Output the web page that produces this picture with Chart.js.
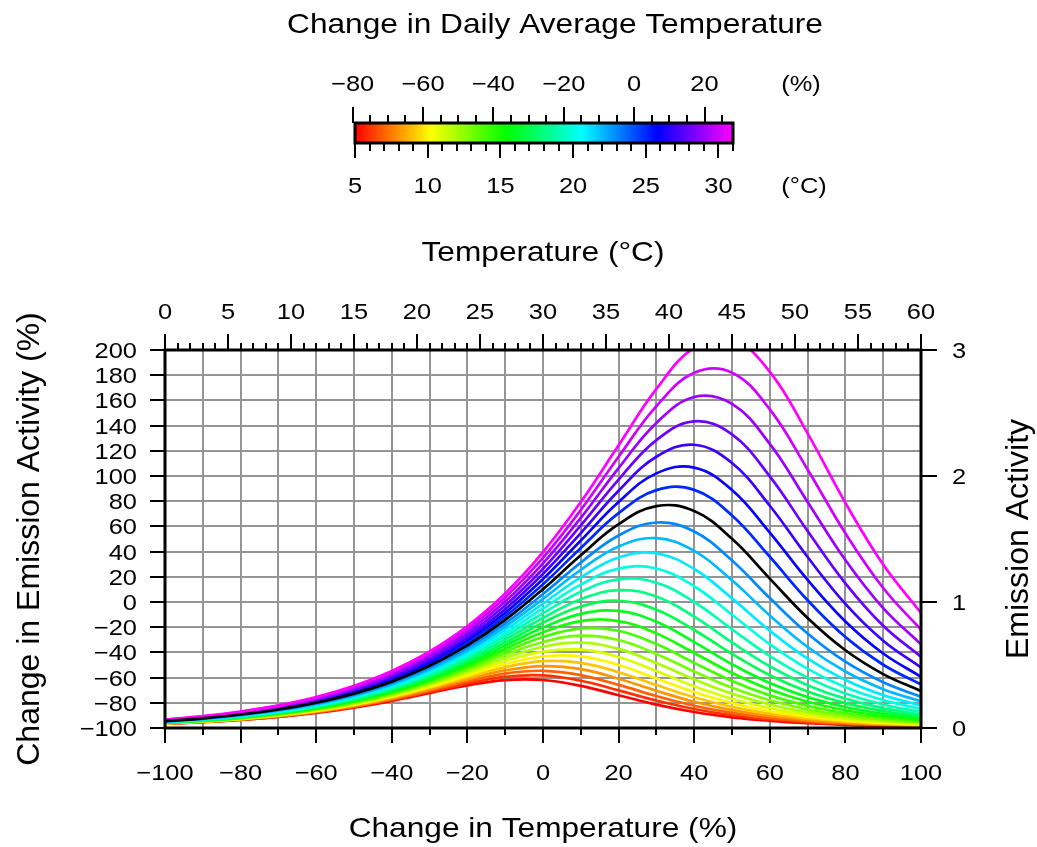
<!DOCTYPE html>
<html>
<head>
<meta charset="utf-8" />
<title>Emission activity vs temperature</title>
<script src="https://cdn.jsdelivr.net/npm/chart.js"></script>
<style>
  * { margin: 0; padding: 0; box-sizing: border-box; }
  body { background: #fff; width: 1037px; height: 847px; overflow: hidden; }
  #chart { display: block; }
</style>
</head>
<body>
<canvas id="chart" width="1037" height="847"></canvas>
<script>
// sample positions: change in temperature (%), -100 % = 0 °C, 100 % = 60 °C
const changeInTemp = [-100, -90, -80, -70, -60, -50, -40, -30, -20, -10, 0, 10, 20, 30, 40, 50, 60, 70, 80, 90, 100];

// daily average temperature of each curve (°C); 24 °C is the black reference curve
const dailyAvgTemps = [5, 6, 7, 8, 9, 10, 11, 12, 13, 14, 15, 16, 17, 18, 19, 20, 21, 22, 23, 24, 25, 26, 27, 28, 29, 30, 31];
const baselineTemp = 24;

// change in emission activity (%)
const td05 = [-96.7, -95.4, -93.6, -91.2, -88.0, -83.8, -78.5, -72.3, -66.2, -62.0, -61.9, -66.6, -74.0, -81.4, -87.3, -91.5, -94.3, -96.2, -97.5, -98.3, -98.9];
const td06 = [-96.6, -95.2, -93.4, -90.9, -87.6, -83.3, -77.8, -71.3, -64.6, -59.4, -58.3, -62.5, -70.1, -78.2, -84.9, -89.9, -93.2, -95.5, -97.0, -98.0, -98.6];
const td07 = [-96.5, -95.1, -93.2, -90.7, -87.3, -82.9, -77.2, -70.3, -63.0, -56.8, -54.6, -58.0, -65.8, -74.6, -82.3, -88.0, -92.0, -94.6, -96.4, -97.6, -98.4];
const td08 = [-96.4, -95.0, -93.1, -90.5, -87.0, -82.4, -76.5, -69.3, -61.4, -54.3, -50.9, -53.3, -60.9, -70.5, -79.2, -85.8, -90.5, -93.7, -95.7, -97.1, -98.1];
const td09 = [-96.3, -94.9, -92.9, -90.2, -86.6, -81.9, -75.8, -68.3, -59.8, -51.8, -47.0, -48.3, -55.7, -65.9, -75.6, -83.2, -88.7, -92.4, -94.9, -96.6, -97.7];
const td10 = [-96.2, -94.7, -92.7, -90.0, -86.3, -81.4, -75.1, -67.3, -58.3, -49.3, -43.2, -43.2, -50.0, -60.7, -71.5, -80.3, -86.7, -91.0, -94.0, -96.0, -97.3];
const td11 = [-96.1, -94.6, -92.5, -89.7, -85.9, -80.9, -74.4, -66.3, -56.7, -46.8, -39.4, -37.8, -43.7, -54.8, -66.8, -76.8, -84.2, -89.4, -92.9, -95.2, -96.7];
const td12 = [-96.0, -94.5, -92.3, -89.4, -85.5, -80.4, -73.7, -65.3, -55.1, -44.4, -35.5, -32.3, -37.2, -48.4, -61.4, -72.7, -81.3, -87.4, -91.5, -94.3, -96.1];
const td13 = [-95.9, -94.3, -92.1, -89.1, -85.1, -79.9, -73.0, -64.2, -53.6, -41.9, -31.7, -26.7, -30.2, -41.2, -55.2, -68.1, -78.0, -85.1, -90.0, -93.2, -95.4];
const td14 = [-95.8, -94.2, -91.9, -88.9, -84.8, -79.3, -72.2, -63.1, -52.0, -39.5, -27.8, -20.9, -22.8, -33.4, -48.3, -62.7, -74.1, -82.4, -88.1, -92.0, -94.6];
const td15 = [-95.7, -94.0, -91.7, -88.5, -84.3, -78.8, -71.4, -62.0, -50.4, -37.1, -24.0, -15.2, -15.2, -24.9, -40.5, -56.4, -69.5, -79.2, -85.9, -90.5, -93.5];
const td16 = [-95.6, -93.8, -91.5, -88.2, -83.9, -78.2, -70.6, -60.9, -48.8, -34.6, -20.2, -9.4, -7.1, -15.7, -31.8, -49.4, -64.3, -75.5, -83.3, -88.7, -92.3];
const td17 = [-95.5, -93.7, -91.2, -87.9, -83.5, -77.5, -69.8, -59.7, -47.1, -32.2, -16.4, -3.6, 1.0, -6.1, -22.2, -41.2, -58.1, -71.1, -80.3, -86.6, -90.9];
const td18 = [-95.4, -93.5, -91.0, -87.6, -83.0, -76.9, -68.9, -58.5, -45.4, -29.7, -12.7, 2.2, 9.4, 4.3, -11.6, -32.1, -51.0, -66.0, -76.7, -84.2, -89.3];
const td19 = [-95.2, -93.3, -90.7, -87.2, -82.5, -76.3, -68.0, -57.3, -43.7, -27.2, -8.9, 8.1, 18.0, 15.3, 0.0, -21.7, -42.9, -60.0, -72.6, -81.3, -87.3];
const td20 = [-95.1, -93.1, -90.5, -86.9, -82.1, -75.5, -67.1, -56.1, -42.0, -24.7, -5.1, 13.8, 26.5, 26.6, 12.5, -10.1, -33.5, -53.1, -67.7, -77.9, -84.9];
const td21 = [-95.0, -93.0, -90.2, -86.5, -81.5, -74.9, -66.2, -54.8, -40.2, -22.2, -1.3, 19.6, 35.3, 38.6, 26.2, 2.9, -22.8, -45.0, -61.9, -73.9, -82.2];
const td22 = [-94.8, -92.8, -89.9, -86.1, -81.0, -74.2, -65.2, -53.4, -38.4, -19.5, 2.5, 25.5, 44.1, 50.7, 40.6, 17.2, -10.7, -35.7, -55.2, -69.2, -78.9];
const td23 = [-94.7, -92.5, -89.6, -85.7, -80.5, -73.5, -64.2, -52.1, -36.4, -16.9, 6.3, 31.3, 52.8, 63.1, 55.9, 32.9, 3.1, -25.0, -47.4, -63.7, -75.2];
const td24 = [-94.5, -92.3, -89.3, -85.3, -79.9, -72.7, -63.2, -50.6, -34.5, -14.2, 10.2, 37.1, 61.8, 76.1, 72.2, 50.2, 18.6, -12.7, -38.3, -57.2, -70.7];
const td25 = [-94.4, -92.1, -89.0, -84.9, -79.3, -71.9, -62.1, -49.2, -32.5, -11.4, 14.1, 42.9, 70.5, 88.8, 89.0, 68.7, 35.9, 1.4, -27.8, -49.8, -65.4];
const td26 = [-94.2, -91.9, -88.7, -84.5, -78.7, -71.1, -60.9, -47.7, -30.4, -8.6, 18.2, 48.8, 79.4, 102.1, 106.7, 88.9, 55.1, 17.5, -15.5, -40.9, -59.3];
const td27 = [-94.0, -91.6, -88.4, -84.0, -78.1, -70.2, -59.8, -46.1, -28.4, -5.7, 22.3, 54.7, 88.3, 115.3, 124.8, 110.3, 76.4, 35.7, -1.5, -30.7, -52.0];
const td28 = [-93.8, -91.4, -88.0, -83.5, -77.4, -69.3, -58.6, -44.5, -26.1, -2.7, 26.4, 60.8, 97.2, 128.5, 143.4, 133.0, 99.7, 56.3, 14.8, -18.8, -43.5];
const td29 = [-93.7, -91.1, -87.7, -83.0, -76.8, -68.4, -57.4, -42.8, -23.9, 0.4, 30.7, 66.8, 106.3, 142.1, 162.7, 157.2, 125.5, 79.4, 33.3, -4.9, -33.6];
const td30 = [-93.5, -90.9, -87.3, -82.5, -76.1, -67.5, -56.1, -41.1, -21.5, 3.6, 35.0, 73.0, 115.3, 155.4, 181.9, 182.0, 152.9, 105.2, 54.5, 11.1, -22.0];
const td31 = [-93.3, -90.6, -86.9, -82.0, -75.4, -66.5, -54.7, -39.3, -19.1, 6.8, 39.6, 79.3, 124.4, 169.1, 201.8, 208.4, 182.7, 133.8, 78.7, 29.7, -8.7];

const curves = [td05, td06, td07, td08, td09, td10, td11, td12, td13, td14, td15, td16, td17, td18,
  td19, td20, td21, td22, td23, td24, td25, td26, td27, td28, td29, td30, td31];

// tick labels
const yTicks = [-100, -80, -60, -40, -20, 0, 20, 40, 60, 80, 100, 120, 140, 160, 180, 200];
const xTicks = [-100, -80, -60, -40, -20, 0, 20, 40, 60, 80, 100];
const tempTicks = [0, 5, 10, 15, 20, 25, 30, 35, 40, 45, 50, 55, 60];
const activityTicks = [0, 1, 2, 3];
const cbPctTicks = [-80, -60, -40, -20, 0, 20];
const cbTempTicks = [5, 10, 15, 20, 25, 30];
const cbBaseTemp = 24.2; // 0 % on the colour bar

const FONT = '"Liberation Sans", Arial, Helvetica, sans-serif';
const hueOf = t => (t - 5) / 26 * 300;
const fmt = v => (v < 0 ? "\u2212" + Math.abs(v) : String(v));

// text is slightly wider than tall in the original
function text(ctx, str, x, y, size, align) {
  ctx.save();
  ctx.translate(x, y);
  ctx.scale(1.13, 1);
  ctx.font = size + "px " + FONT;
  ctx.textAlign = align || "center";
  ctx.textBaseline = "alphabetic";
  ctx.fillStyle = "#000";
  ctx.fillText(str, 0, 0);
  ctx.restore();
}

function vtext(ctx, str, x, y, size) {
  ctx.save();
  ctx.translate(x, y);
  ctx.rotate(-Math.PI / 2);
  ctx.font = size + "px " + FONT;
  ctx.textAlign = "center";
  ctx.textBaseline = "alphabetic";
  ctx.fillStyle = "#000";
  ctx.fillText(str, 0, 0);
  ctx.restore();
}

function line(ctx, x1, y1, x2, y2) {
  ctx.moveTo(x1, y1);
  ctx.lineTo(x2, y2);
}

// colour bar box
const cb = { left: 355, right: 733, top: 123, bottom: 143, t0: 5, t1: 31 };
const cbX = t => cb.left + (t - cb.t0) / (cb.t1 - cb.t0) * (cb.right - cb.left);

const decor = {
  id: "decor",
  beforeDatasetsDraw(chart) {
    const { ctx, chartArea: a, scales } = chart;
    ctx.save();
    ctx.strokeStyle = "#959595";
    ctx.lineWidth = 2;
    ctx.beginPath();
    for (let v = -100; v <= 100; v += 10) {
      const px = Math.round(scales.x.getPixelForValue(v));
      line(ctx, px, a.top, px, a.bottom);
    }
    for (let v = -100; v <= 200; v += 20) {
      const py = Math.round(scales.y.getPixelForValue(v));
      line(ctx, a.left, py, a.right, py);
    }
    ctx.stroke();
    ctx.restore();
  },
  afterDatasetsDraw(chart) {
    const { ctx, chartArea: a, scales } = chart;
    ctx.save();
    ctx.strokeStyle = "#000";

    // ticks
    ctx.lineWidth = 2;
    ctx.beginPath();
    for (let v = -100; v <= 100; v += 10) {
      const px = Math.round(scales.x.getPixelForValue(v));
      line(ctx, px, a.bottom, px, a.bottom + (v % 20 === 0 ? 15 : 7));
    }
    for (let t = 0; t <= 60; t += 1) {
      const px = Math.round(scales.xTop.getPixelForValue(t));
      line(ctx, px, a.top, px, a.top - (t % 5 === 0 ? 16 : 7));
    }
    yTicks.forEach(v => {
      const py = Math.round(scales.y.getPixelForValue(v));
      line(ctx, a.left - 15, py, a.left, py);
    });
    activityTicks.forEach(v => {
      const py = Math.round(scales.yRight.getPixelForValue(v));
      line(ctx, a.right, py, a.right + 16, py);
    });
    ctx.stroke();

    // frame
    ctx.lineWidth = 3;
    ctx.strokeRect(a.left, a.top, a.right - a.left, a.bottom - a.top);

    // tick labels
    xTicks.forEach(v => text(ctx, fmt(v), scales.x.getPixelForValue(v), 780, 22.5));
    tempTicks.forEach(t => text(ctx, String(t), scales.xTop.getPixelForValue(t), 319, 22.5));
    yTicks.forEach(v => text(ctx, fmt(v), 137, scales.y.getPixelForValue(v) + 8, 22.5, "right"));
    activityTicks.forEach(v => text(ctx, String(v), 952, scales.yRight.getPixelForValue(v) + 8, 22.5, "left"));

    // axis titles
    const midX = (a.left + a.right) / 2;
    text(ctx, "Temperature (\u00B0C)", midX, 261, 28);
    text(ctx, "Change in Temperature (%)", midX, 837, 28);
    vtext(ctx, "Change in Emission Activity (%)", 39, 539, 32);
    vtext(ctx, "Emission Activity", 1028, 539, 32);

    // colour bar
    text(ctx, "Change in Daily Average Temperature", 555, 33, 28);
    const grad = ctx.createLinearGradient(cb.left, 0, cb.right, 0);
    for (let h = 0; h <= 300; h += 60) grad.addColorStop(h / 300, "hsl(" + h + ",100%,50%)");
    ctx.fillStyle = grad;
    ctx.fillRect(cb.left, cb.top, cb.right - cb.left, cb.bottom - cb.top);

    ctx.lineWidth = 2;
    ctx.beginPath();
    for (let p = -80; p <= 25; p += 5) {
      const px = Math.round(cbX(cbBaseTemp * (1 + p / 100)));
      line(ctx, px, cb.top, px, cb.top - (p % 20 === 0 ? 16 : 8));
    }
    for (let t = 5; t <= 31; t += 1) {
      const px = Math.round(cbX(t));
      line(ctx, px, cb.bottom, px, cb.bottom + (t % 5 === 0 ? 15 : 8));
    }
    ctx.stroke();
    ctx.lineWidth = 3;
    ctx.strokeRect(cb.left, cb.top, cb.right - cb.left, cb.bottom - cb.top);

    cbPctTicks.forEach(p => text(ctx, fmt(p), cbX(cbBaseTemp * (1 + p / 100)), 91, 22.5));
    cbTempTicks.forEach(t => text(ctx, String(t), cbX(t), 193, 22.5));
    text(ctx, "(%)", 801, 91, 22.5);
    text(ctx, "(\u00B0C)", 804, 193, 22.5);
    ctx.restore();
  }
};

const datasets = dailyAvgTemps.map((t, i) => ({
  label: t + " \u00B0C",
  data: changeInTemp.map((x, k) => ({ x: x, y: curves[i][k] })),
  borderColor: t === baselineTemp ? "#000" : "hsl(" + hueOf(t) + ",100%,50%)",
  borderWidth: 2.7,
  pointRadius: 0,
  tension: 0.4,
  fill: false,
  order: t === baselineTemp ? 0 : 100 - i
}));

new Chart(document.getElementById("chart").getContext("2d"), {
  type: "line",
  data: { datasets: datasets },
  options: {
    responsive: false,
    animation: false,
    devicePixelRatio: 1,
    layout: { padding: { left: 165, top: 350, right: 116, bottom: 119 } },
    scales: {
      x: { type: "linear", min: -100, max: 100, display: false },
      y: { type: "linear", min: -100, max: 200, display: false },
      xTop: { type: "linear", position: "top", min: 0, max: 60, display: false },
      yRight: { type: "linear", position: "right", min: 0, max: 3, display: false }
    },
    plugins: { legend: { display: false }, tooltip: { enabled: false } }
  },
  plugins: [decor]
});
</script>
</body>
</html>
